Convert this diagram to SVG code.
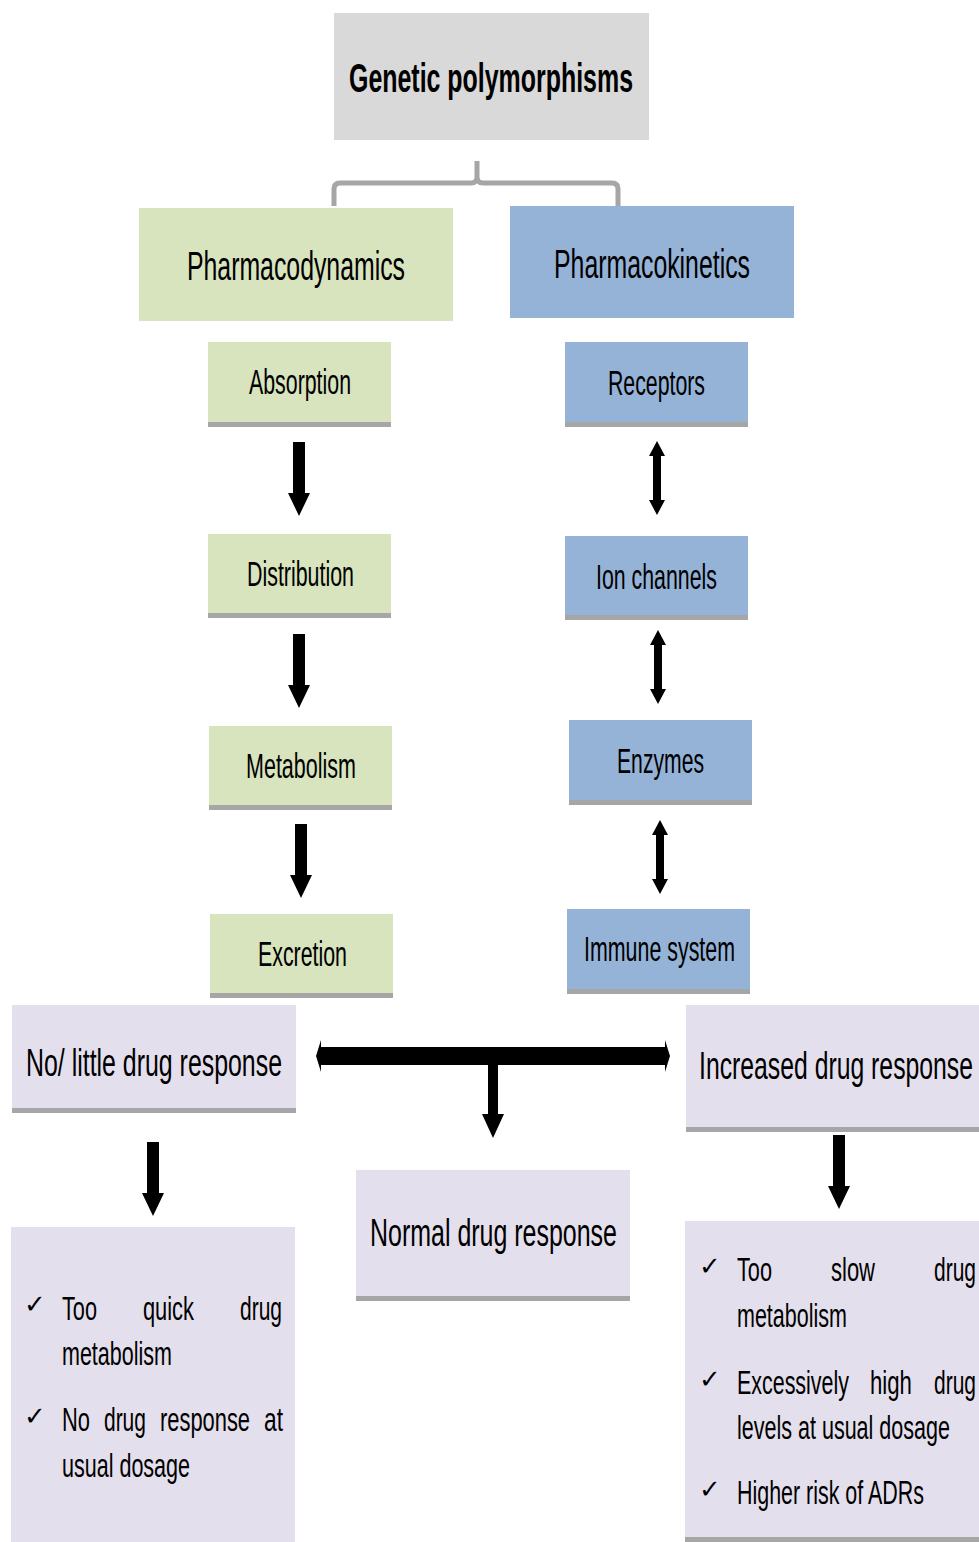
<svg xmlns="http://www.w3.org/2000/svg" xmlns:xlink="http://www.w3.org/1999/xlink" width="979" height="1542" viewBox="0 0 979 1542">
<style>
.t{font-family:"Liberation Sans",Arial,sans-serif;fill:#000}
.b{font-weight:bold}
.ck{font-family:"DejaVu Sans",sans-serif;font-size:26px;fill:#000}
.g{fill:#d7e4bd}.bl{fill:#95b3d7}.lv{fill:#e4dfec}.gr{fill:#d9d9d9}.sh{fill:#a6a6a6}
</style>
<defs>
<path id="darr" d="M-6,0 H6 V51 H11 L0,74 L-11,51 H-6 Z" fill="#000"/>
<path id="dbl" d="M0,0 L8,15 H4 V59 H8 L0,74 L-8,59 H-4 V15 H-8 Z" fill="#000"/>
</defs>
<rect width="979" height="1542" fill="#fff"/>

<g id="n-genetic">
<rect class="gr" x="334" y="13" width="315" height="127"/>
<text class="t b" x="349" y="92" font-size="40" textLength="284" lengthAdjust="spacingAndGlyphs">Genetic polymorphisms</text>
</g>

<g id="n-pd">
<rect class="g" x="139" y="208" width="314" height="113"/>
<text class="t" x="187" y="280" font-size="40" textLength="218" lengthAdjust="spacingAndGlyphs">Pharmacodynamics</text>
</g>
<g id="n-pk">
<rect class="bl" x="510" y="206" width="284" height="112"/>
<text class="t" x="554" y="278" font-size="40" textLength="196" lengthAdjust="spacingAndGlyphs">Pharmacokinetics</text>
</g>

<g id="n-absorption">
<rect class="g" x="208" y="342" width="183" height="81"/>
<rect class="sh" x="208" y="422" width="183" height="5"/>
<text class="t" x="249" y="394" font-size="35" textLength="102" lengthAdjust="spacingAndGlyphs">Absorption</text>
</g>
<g id="n-distribution">
<rect class="g" x="208" y="534" width="183" height="80"/>
<rect class="sh" x="208" y="613" width="183" height="5"/>
<text class="t" x="247" y="586" font-size="35" textLength="107" lengthAdjust="spacingAndGlyphs">Distribution</text>
</g>
<g id="n-metabolism">
<rect class="g" x="209" y="726" width="183" height="80"/>
<rect class="sh" x="209" y="805" width="183" height="5"/>
<text class="t" x="246" y="778" font-size="35" textLength="110" lengthAdjust="spacingAndGlyphs">Metabolism</text>
</g>
<g id="n-excretion">
<rect class="g" x="210" y="914" width="183" height="80"/>
<rect class="sh" x="210" y="993" width="183" height="5"/>
<text class="t" x="258" y="966" font-size="35" textLength="89" lengthAdjust="spacingAndGlyphs">Excretion</text>
</g>

<g id="n-receptors">
<rect class="bl" x="565" y="342" width="183" height="81"/>
<rect class="sh" x="565" y="422" width="183" height="5"/>
<text class="t" x="608" y="395" font-size="35" textLength="97" lengthAdjust="spacingAndGlyphs">Receptors</text>
</g>
<g id="n-ion">
<rect class="bl" x="565" y="536" width="183" height="80"/>
<rect class="sh" x="565" y="615" width="183" height="5"/>
<text class="t" x="596" y="589" font-size="35" textLength="121" lengthAdjust="spacingAndGlyphs">Ion channels</text>
</g>
<g id="n-enzymes">
<rect class="bl" x="569" y="720" width="183" height="81"/>
<rect class="sh" x="569" y="800" width="183" height="5"/>
<text class="t" x="617" y="773" font-size="35" textLength="87" lengthAdjust="spacingAndGlyphs">Enzymes</text>
</g>
<g id="n-immune">
<rect class="bl" x="567" y="909" width="183" height="81"/>
<rect class="sh" x="567" y="989" width="183" height="5"/>
<text class="t" x="584" y="961" font-size="35" textLength="151" lengthAdjust="spacingAndGlyphs">Immune system</text>
</g>

<g id="n-nolittle">
<rect class="lv" x="12" y="1005" width="284" height="104"/>
<rect class="sh" x="12" y="1108" width="284" height="5"/>
<text class="t" x="26" y="1076" font-size="38" textLength="256" lengthAdjust="spacingAndGlyphs">No/ little drug response</text>
</g>
<g id="n-increased">
<rect class="lv" x="686" y="1005" width="293" height="123"/>
<rect class="sh" x="686" y="1127" width="293" height="5"/>
<text class="t" transform="translate(699,1079) scale(0.654,1)" x="0" y="0" font-size="38" textLength="419" lengthAdjust="spacingAndGlyphs">Increased drug response</text>
</g>
<g id="n-normal">
<rect class="lv" x="356" y="1170" width="274" height="127"/>
<rect class="sh" x="356" y="1296" width="274" height="5"/>
<text class="t" x="370" y="1246" font-size="38" textLength="247" lengthAdjust="spacingAndGlyphs">Normal drug response</text>
</g>

<g id="n-left-list">
<rect class="lv" x="11" y="1227" width="284" height="315"/>
<text class="ck" x="24" y="1313">✓</text>
<text class="ck" x="24" y="1425">✓</text>
<g transform="scale(0.62,1)">
<text class="t" x="100" y="1320" font-size="34" textLength="56.5" lengthAdjust="spacingAndGlyphs">Too</text>
<text class="t" x="230.6" y="1320" font-size="34" textLength="82.3" lengthAdjust="spacingAndGlyphs">quick</text>
<text class="t" x="387.1" y="1320" font-size="34" textLength="67.7" lengthAdjust="spacingAndGlyphs">drug</text>
<text class="t" x="100" y="1365" font-size="34" textLength="177.4" lengthAdjust="spacingAndGlyphs">metabolism</text>
<text class="t" x="100" y="1431" font-size="34" textLength="45.2" lengthAdjust="spacingAndGlyphs">No</text>
<text class="t" x="167.7" y="1431" font-size="34" textLength="67.7" lengthAdjust="spacingAndGlyphs">drug</text>
<text class="t" x="258.1" y="1431" font-size="34" textLength="145.2" lengthAdjust="spacingAndGlyphs">response</text>
<text class="t" x="425.8" y="1431" font-size="34" textLength="30.6" lengthAdjust="spacingAndGlyphs">at</text>
<text class="t" x="100" y="1477" font-size="34" textLength="206.5" lengthAdjust="spacingAndGlyphs">usual dosage</text>
</g>
</g>

<g id="n-right-list">
<rect class="lv" x="685" y="1221" width="294" height="317"/>
<rect class="sh" x="685" y="1537" width="294" height="5"/>
<text class="ck" x="699" y="1275">✓</text>
<text class="ck" x="699" y="1388">✓</text>
<text class="ck" x="699" y="1498">✓</text>
<g transform="scale(0.62,1)">
<text class="t" x="1188.7" y="1281" font-size="34" textLength="56.5" lengthAdjust="spacingAndGlyphs">Too</text>
<text class="t" x="1340.3" y="1281" font-size="34" textLength="71" lengthAdjust="spacingAndGlyphs">slow</text>
<text class="t" x="1506.5" y="1281" font-size="34" textLength="67.7" lengthAdjust="spacingAndGlyphs">drug</text>
<text class="t" x="1188.7" y="1327" font-size="34" textLength="177.4" lengthAdjust="spacingAndGlyphs">metabolism</text>
<text class="t" x="1188.7" y="1394" font-size="34" textLength="180.6" lengthAdjust="spacingAndGlyphs">Excessively</text>
<text class="t" x="1403.2" y="1394" font-size="34" textLength="67.7" lengthAdjust="spacingAndGlyphs">high</text>
<text class="t" x="1506.5" y="1394" font-size="34" textLength="67.7" lengthAdjust="spacingAndGlyphs">drug</text>
<text class="t" x="1188.7" y="1439" font-size="34" textLength="343.5" lengthAdjust="spacingAndGlyphs">levels at usual dosage</text>
<text class="t" x="1188.7" y="1504" font-size="34" textLength="301.6" lengthAdjust="spacingAndGlyphs">Higher risk of ADRs</text>
</g>
</g>

<g id="connectors">
<path d="M334,206 V189 Q334,183 340,183 H471 Q477,183 477,177 V161 M477,177 Q477,183 483,183 H612 Q618,183 618,189 V206" fill="none" stroke="#a6a6a6" stroke-width="5"/>
<use xlink:href="#darr" x="299" y="442"/>
<use xlink:href="#darr" x="299" y="634"/>
<use xlink:href="#darr" x="301" y="824"/>
<use xlink:href="#dbl" x="657" y="441"/>
<use xlink:href="#dbl" x="658" y="630"/>
<use xlink:href="#dbl" x="660" y="820"/>
<polygon points="316,1056 321,1040 321,1047 665,1047 665,1040 670,1056 665,1072 665,1065 321,1065 321,1072" fill="#000"/>
<path d="M488,1064 H498 V1114 H504 L493,1138 L482,1114 H488 Z" fill="#000"/>
<use xlink:href="#darr" x="153" y="1142"/>
<use xlink:href="#darr" x="839" y="1135"/>
</g>
</svg>
